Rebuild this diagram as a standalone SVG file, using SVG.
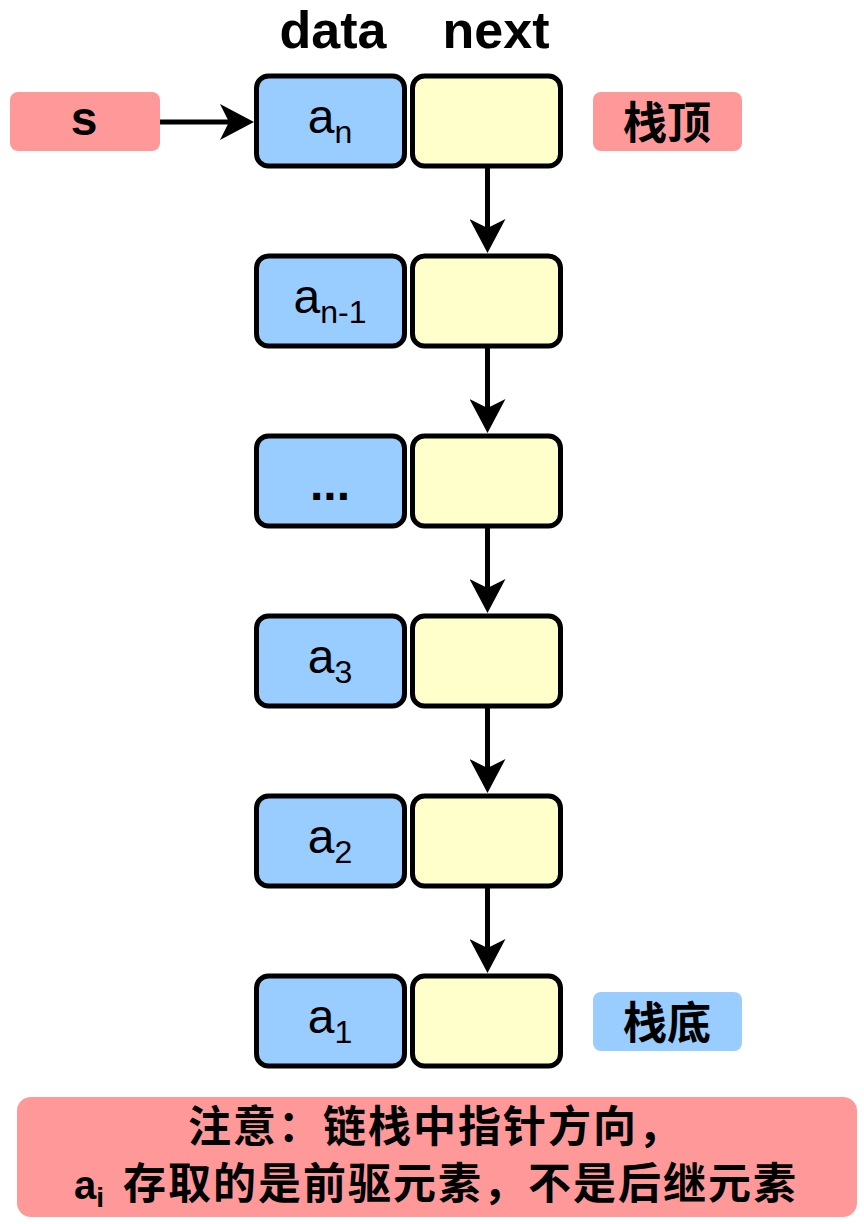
<svg xmlns="http://www.w3.org/2000/svg" width="864" height="1224" viewBox="0 0 864 1224">
<defs>
<style>
.data{fill:#99CCFF;stroke:#000;stroke-width:5}
.next{fill:#FFFFCC;stroke:#000;stroke-width:5}
.lbl{font-family:"Liberation Sans","Noto Sans CJK SC",sans-serif;fill:#000}
.a{font-size:48px;text-anchor:middle}
.sub{font-size:32px}
.b{font-weight:bold}
.cj{font-family:"Noto Sans CJK SC","Liberation Sans",sans-serif;font-weight:bold;fill:#000}
.edge{stroke:#000;stroke-width:5;fill:none}
</style>
<marker id="ah" viewBox="0 0 34 36" refX="14" refY="18" markerWidth="34" markerHeight="36" markerUnits="userSpaceOnUse" orient="auto">
<path d="M0,0 L34,18 L0,36 L9,18 Z" fill="#000"/>
</marker>
</defs>
<rect width="864" height="1224" fill="#fff"/>
<g id="header">
<text class="lbl b" x="333" y="48" font-size="52" text-anchor="middle">data</text>
<text class="lbl b" x="496" y="48" font-size="52" text-anchor="middle">next</text>
</g>
<g id="s">
<rect x="10" y="92" width="150" height="59" rx="8" fill="#FF9999"/>
<text class="lbl b" x="84" y="135" font-size="48" text-anchor="middle">s</text>
</g>
<g id="top">
<rect x="593" y="92" width="149" height="59" rx="8" fill="#FF9999"/>
<text class="cj" x="667" y="139" font-size="44" text-anchor="middle">栈顶</text>
</g>
<g id="bottom">
<rect x="593" y="992" width="149" height="59" rx="8" fill="#99CCFF"/>
<text class="cj" x="667" y="1039" font-size="44" text-anchor="middle">栈底</text>
</g>
<g id="node_n">
<rect class="data" x="256.5" y="76" width="148" height="90" rx="12"/>
<rect class="next" x="412.5" y="76" width="148" height="90" rx="12"/>
<text class="lbl a" x="330" y="133">a<tspan class="sub" dy="10">n</tspan></text>
</g>
<g id="node_n1">
<rect class="data" x="256.5" y="256" width="148" height="90" rx="12"/>
<rect class="next" x="412.5" y="256" width="148" height="90" rx="12"/>
<text class="lbl a" x="330" y="313">a<tspan class="sub" dy="10">n-1</tspan></text>
</g>
<g id="node_dots">
<rect class="data" x="256.5" y="436" width="148" height="90" rx="12"/>
<rect class="next" x="412.5" y="436" width="148" height="90" rx="12"/>
<text class="lbl a b" x="330" y="500">...</text>
</g>
<g id="node_3">
<rect class="data" x="256.5" y="616" width="148" height="90" rx="12"/>
<rect class="next" x="412.5" y="616" width="148" height="90" rx="12"/>
<text class="lbl a" x="330" y="673">a<tspan class="sub" dy="10">3</tspan></text>
</g>
<g id="node_2">
<rect class="data" x="256.5" y="796" width="148" height="90" rx="12"/>
<rect class="next" x="412.5" y="796" width="148" height="90" rx="12"/>
<text class="lbl a" x="330" y="853">a<tspan class="sub" dy="10">2</tspan></text>
</g>
<g id="node_1">
<rect class="data" x="256.5" y="976" width="148" height="90" rx="12"/>
<rect class="next" x="412.5" y="976" width="148" height="90" rx="12"/>
<text class="lbl a" x="330" y="1033">a<tspan class="sub" dy="10">1</tspan></text>
</g>
<g id="connectors">
<line class="edge" x1="160" y1="122" x2="234" y2="122" marker-end="url(#ah)"/>
<line class="edge" x1="487.5" y1="168" x2="487.5" y2="233" marker-end="url(#ah)"/>
<line class="edge" x1="487.5" y1="348" x2="487.5" y2="413" marker-end="url(#ah)"/>
<line class="edge" x1="487.5" y1="528" x2="487.5" y2="593" marker-end="url(#ah)"/>
<line class="edge" x1="487.5" y1="708" x2="487.5" y2="773" marker-end="url(#ah)"/>
<line class="edge" x1="487.5" y1="888" x2="487.5" y2="953" marker-end="url(#ah)"/>
</g>
<g id="note">
<rect x="17" y="1097" width="840" height="120" rx="14" fill="#FF9999"/>
<text class="cj" x="188" y="1142" font-size="43" letter-spacing="2">注意：链栈中指针方向，</text>
<text class="cj" y="1199" font-size="43" letter-spacing="2"><tspan x="74" font-family="Liberation Sans" font-size="40" letter-spacing="0">a</tspan><tspan font-family="Liberation Sans" font-size="28" dy="8" letter-spacing="0">i</tspan><tspan x="123" dy="-8">存取的是前驱元素，不是后继元素</tspan></text>
</g>
</svg>
